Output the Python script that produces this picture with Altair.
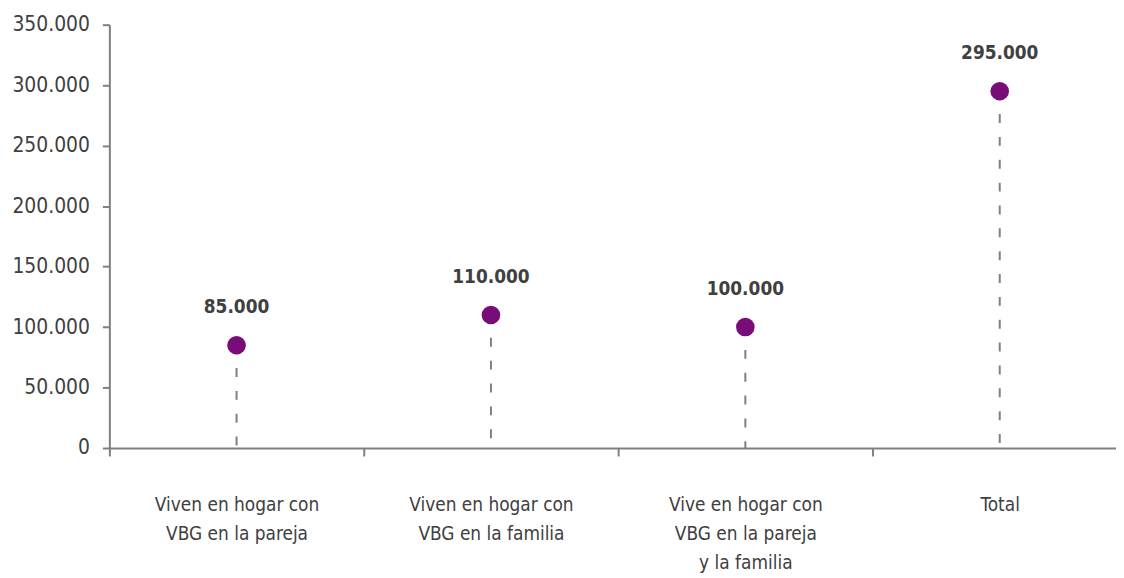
import altair as alt
import pandas as pd

categories = [
    "Viven en hogar con\nVBG en la pareja",
    "Viven en hogar con\nVBG en la familia",
    "Vive en hogar con\nVBG en la pareja\ny la familia",
    "Total",
]
values = [85000, 110000, 100000, 295000]
y_ticks = [0, 50000, 100000, 150000, 200000, 250000, 300000, 350000]

df = pd.DataFrame({"cat": categories, "val": values})

FONT = "DejaVu Sans Condensed, Liberation Sans Narrow, Roboto, sans-serif"
GRAY = "#7f7f7f"
TEXT = "#404040"
PURPLE = "#790D78"

x = alt.X(
    "cat:N",
    sort=categories,
    scale=alt.Scale(paddingInner=0, paddingOuter=0, range=[0, 1024]),
    axis=alt.Axis(
        title=None,
        labelAngle=0,
        labelExpr="split(datum.label, '\\n')",
        labelLineHeight=29,
        labelFontSize=19,
        labelFont=FONT,
        labelColor=TEXT,
        labelPadding=40,
        labelBaseline="top",
        tickBand="extent",
        tickSize=8,
        tickWidth=2,
        tickColor=GRAY,
        domainColor=GRAY,
        domainWidth=2,
        grid=False,
    ),
)
y = alt.Y(
    "val:Q",
    scale=alt.Scale(domain=[0, 350000], nice=False),
    axis=alt.Axis(
        title=None,
        values=y_ticks,
        format=",d",
        labelFontSize=21,
        labelFont=FONT,
        labelColor=TEXT,
        labelPadding=13,
        tickSize=7,
        tickWidth=2,
        tickColor=GRAY,
        domainColor=GRAY,
        domainWidth=2,
        grid=False,
    ),
)

base = alt.Chart(df)

rules = base.mark_rule(color=GRAY, strokeWidth=2, strokeDash=[9, 14]).encode(
    x=x, y=y, y2=alt.datum(0)
)
points = base.mark_circle(size=350, color=PURPLE, opacity=1).encode(x=x, y=y)
labels = base.mark_text(
    dy=-38, fontSize=19, font=FONT, fontWeight="bold", color=TEXT, baseline="middle"
).encode(x=x, y=y, text=alt.Text("val:Q", format=",d"))

chart = (
    alt.layer(rules, points, labels)
    .properties(
        width=1013,
        height=426,
        autosize=alt.AutoSizeParams(type="none"),
        padding={"left": 102, "top": 15, "right": 0, "bottom": 125},
    )
    .configure(
        locale={
            "number": {
                "decimal": ",",
                "thousands": ".",
                "grouping": [3],
                "currency": ["", " €"],
            }
        }
    )
    .configure_view(stroke=None)
)

chart.save("out.html", embed_options={"renderer": "svg", "actions": False})
